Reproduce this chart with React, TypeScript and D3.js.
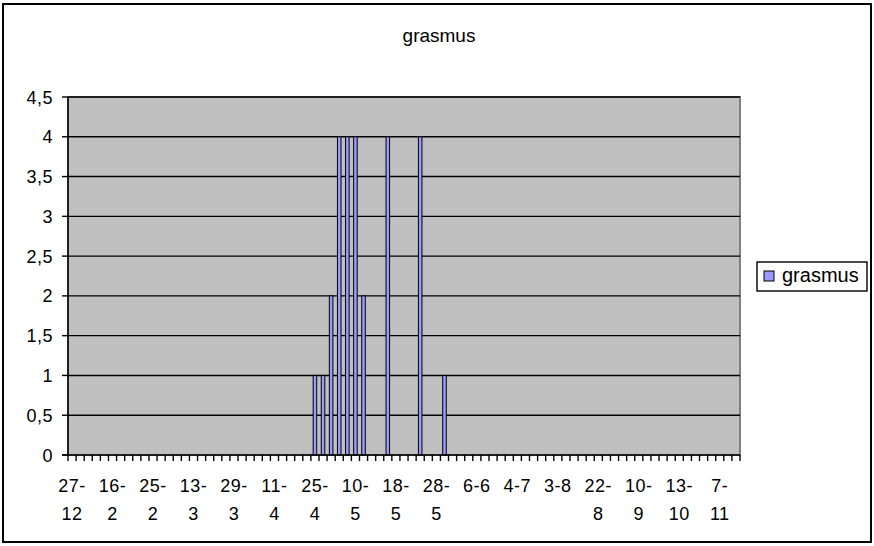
import React from "react";
import * as d3 from "d3";

const categories: string[] = [
  "27-12", "10-1", "20-1", "28-1", "6-2",
  "16-2", "18-2", "20-2", "22-2", "23-2",
  "25-2", "28-2", "3-3", "6-3", "10-3",
  "13-3", "16-3", "20-3", "23-3", "26-3",
  "29-3", "1-4", "3-4", "6-4", "9-4",
  "11-4", "14-4", "17-4", "20-4", "23-4",
  "25-4", "28-4", "1-5", "4-5", "7-5",
  "10-5", "12-5", "14-5", "15-5", "16-5",
  "18-5", "20-5", "22-5", "24-5", "26-5",
  "28-5", "30-5", "1-6", "3-6", "4-6",
  "6-6", "12-6", "17-6", "23-6", "29-6",
  "4-7", "10-7", "16-7", "22-7", "28-7",
  "3-8", "6-8", "10-8", "14-8", "18-8",
  "22-8", "26-8", "30-8", "2-9", "6-9",
  "10-9", "16-9", "23-9", "30-9", "6-10",
  "13-10", "18-10", "23-10", "28-10", "2-11",
  "7-11", "14-11", "21-11",
];

const values: number[] = [
  0, 0, 0, 0, 0,
  0, 0, 0, 0, 0,
  0, 0, 0, 0, 0,
  0, 0, 0, 0, 0,
  0, 0, 0, 0, 0,
  0, 0, 0, 0, 0,
  1, 1, 2, 4, 4,
  4, 2, 0, 0, 4,
  0, 0, 0, 4, 0,
  0, 1, 0, 0, 0,
  0, 0, 0, 0, 0,
  0, 0, 0, 0, 0,
  0, 0, 0, 0, 0,
  0, 0, 0, 0, 0,
  0, 0, 0, 0, 0,
  0, 0, 0, 0, 0,
  0, 0, 0,
];

const yTicks: number[] = [0, 0.5, 1, 1.5, 2, 2.5, 3, 3.5, 4, 4.5];
const seriesName = "grasmus";
const title = "grasmus";
const labelEvery = 5;

const W = 874;
const H = 546;
const FONT = "'Liberation Sans', Arial, sans-serif";

export default function App() {
  const left = 68;
  const right = 740;
  const top = 97;
  const bottom = 455;

  const x = d3.scaleBand<string>().domain(categories).range([left, right]).padding(0);
  const y = d3.scaleLinear().domain([0, 4.5]).range([bottom, top]);
  const bw = x.bandwidth();
  const barW = bw * 0.44;
  const fmt = (v: number) => String(v).replace(".", ",");

  const tickXs = categories.map((c) => x(c) as number).concat([right]);

  return (
    <div style={{ position: "absolute", left: 0, top: 0 }}>
      <svg width={W} height={H} style={{ display: "block", background: "#fff" }} fontFamily={FONT}>
        <rect x={3} y={4} width={868} height={538} fill="#fff" stroke="#000" strokeWidth={2} />
        <text x={439} y={42} textAnchor="middle" fontSize={19} fill="#000">{title}</text>

        {/* plot area */}
        <rect x={left} y={top} width={right - left} height={bottom - top} fill="#C0C0C0" stroke="#808080" strokeWidth={2} />
        {yTicks.filter((t) => t > 0).map((t) => (
          <line key={"g" + t} x1={left} x2={right} y1={y(t)} y2={y(t)} stroke="#000" strokeWidth={1.4} />
        ))}

        {/* bars */}
        {categories.map((c, i) =>
          values[i] > 0 ? (
            <rect
              key={"b" + i}
              x={(x(c) as number) + bw / 2 - barW / 2}
              y={y(values[i])}
              width={barW}
              height={bottom - y(values[i])}
              fill="#9999FF"
              stroke="#000"
              strokeWidth={1}
            />
          ) : null
        )}

        {/* y axis */}
        <line x1={left} x2={left} y1={top} y2={bottom} stroke="#000" strokeWidth={1.5} />
        {yTicks.map((t) => (
          <g key={"y" + t}>
            <line x1={left - 6} x2={left} y1={y(t)} y2={y(t)} stroke="#000" strokeWidth={1.4} />
            <text x={53} y={y(t) + 6.5} textAnchor="end" fontSize={18} letterSpacing={0.5} fill="#000">{fmt(t)}</text>
          </g>
        ))}

        {/* x axis */}
        <line x1={left - 6} x2={right} y1={bottom} y2={bottom} stroke="#000" strokeWidth={1.5} />
        {tickXs.map((tx, i) => (
          <line key={"t" + i} x1={tx} x2={tx} y1={bottom} y2={bottom + 6} stroke="#000" strokeWidth={1.4} />
        ))}
        {categories.map((c, i) => {
          if (i % labelEvery !== 0) return null;
          const cx = (x(c) as number) + bw / 2;
          const wrap = c.length > 3;
          const parts = wrap ? [c.slice(0, c.indexOf("-") + 1), c.slice(c.indexOf("-") + 1)] : [c];
          return (
            <text key={"l" + i} x={cx} textAnchor="middle" fontSize={18} letterSpacing={0.5} fill="#000">
              {parts.map((p, k) => (
                <tspan key={k} x={cx} y={492 + k * 28}>{p}</tspan>
              ))}
            </text>
          );
        })}

        {/* legend */}
        <rect x={757} y={262} width={110} height={29} fill="#fff" stroke="#000" strokeWidth={1.4} />
        <rect x={764} y={271} width={10} height={10} fill="#9999FF" stroke="#000" strokeWidth={1} />
        <text x={782} y={282} fontSize={20} fill="#000">{seriesName}</text>
      </svg>
    </div>
  );
}
